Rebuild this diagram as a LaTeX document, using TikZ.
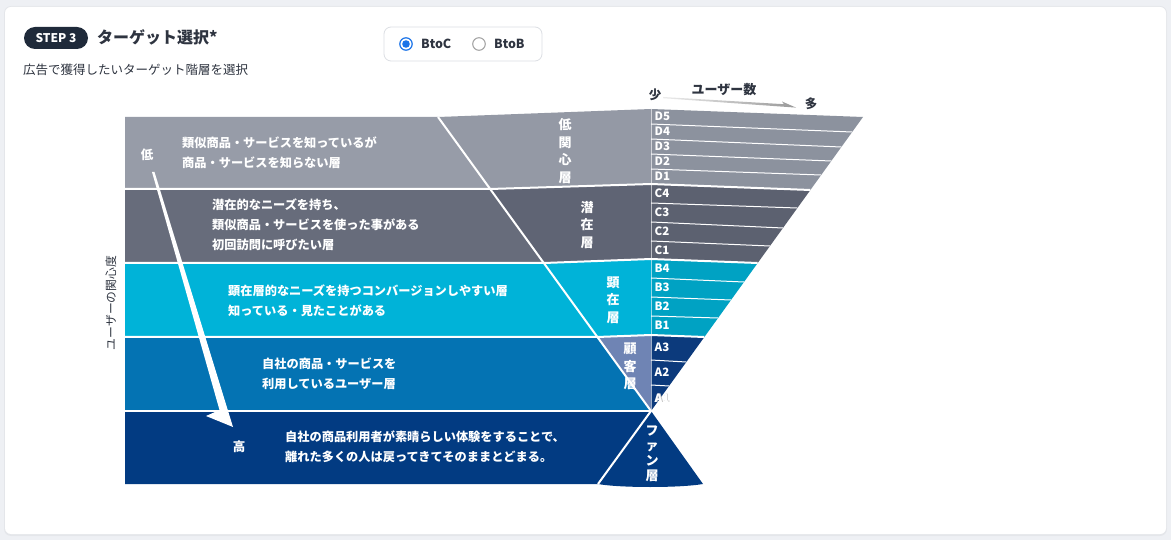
\documentclass[tikz,border=0pt]{standalone}
\usepackage{fontspec}
\setmainfont{Noto Sans CJK JP}
\definecolor{bgc}{HTML}{EEF0F4}
\definecolor{dL}{HTML}{979CA8}
\definecolor{dR}{HTML}{8C929E}
\definecolor{cL}{HTML}{676C7B}
\definecolor{cM}{HTML}{5F6474}
\definecolor{cR}{HTML}{5C6170}
\definecolor{bL}{HTML}{00B3D8}
\definecolor{bR}{HTML}{00A2C3}
\definecolor{aL}{HTML}{0473B3}
\definecolor{aM}{HTML}{6F84B4}
\definecolor{aR}{HTML}{0C3A7C}
\definecolor{fL}{HTML}{023B82}
\definecolor{ink}{HTML}{2E3440}
\definecolor{badgec}{HTML}{1F2A3A}
\definecolor{radioc}{HTML}{1A73E8}
\definecolor{boxline}{HTML}{DCDFE4}
\begin{document}
\begin{tikzpicture}[x=1pt,y=-1pt,
  bandtxt/.style={text=white,font=\bfseries\fontsize{12.2}{20}\selectfont,align=left,anchor=west,inner sep=0},
  vlab/.style={text=white,font=\bfseries\fontsize{13}{17.7}\selectfont,align=center,inner sep=0},
  rlab/.style={text=white,font=\bfseries\fontsize{11.5}{12}\selectfont,inner sep=0,anchor=west},
  sectsep/.style={white,line width=2pt,line join=round},
  rowsep/.style={white,line width=1pt},
  inktxt/.style={text=ink,inner sep=0}]
\fill[bgc] (0,0) rectangle (1171,540);
\useasboundingbox (0,0) rectangle (1171,540);
% card
\fill[black,opacity=0.04,rounded corners=7] (4,6) rectangle (1167,536);
\fill[white,rounded corners=6] (5,7) rectangle (1166,534);
% header
\node[fill=badgec,rounded corners=11,minimum width=64,minimum height=22,inner sep=0,text=white,font=\bfseries\fontsize{12}{12}\selectfont] (badge) at (56,38) {STEP 3};
\node[inktxt,anchor=west,font=\bfseries\fontsize{16}{16}\selectfont] (title) at (97,37) {ターゲット選択*};
\node[inktxt,anchor=west,font=\fontsize{12.5}{13}\selectfont] (sub) at (23,70) {広告で獲得したいターゲット階層を選択};
% radio
\node[draw=boxline,fill=white,rounded corners=7,minimum width=158,minimum height=34,inner sep=0,line width=0.8pt] (radiobox) at (463,44) {};
\draw[radioc,line width=1.2pt] (406,44) circle (6.2);
\fill[radioc] (406,44) circle (3.8);
\draw[gray!75,line width=1pt] (479,44) circle (6.3);
\node[inktxt,anchor=west,font=\bfseries\fontsize{12.5}{13}\selectfont] (btoc) at (421,44) {BtoC};
\node[inktxt,anchor=west,font=\bfseries\fontsize{12.5}{13}\selectfont] (btob) at (494,44) {BtoB};
% left bands
\fill[dL] (125,117) -- (438,117) -- (490,189) -- (125,189) -- cycle;
\fill[cL] (125,189) -- (490,189) -- (544,263) -- (125,263) -- cycle;
\fill[bL] (125,263) -- (544,263) -- (597,337) -- (125,337) -- cycle;
\fill[aL] (125,337) -- (597,337) -- (651,411) -- (125,411) -- cycle;
\fill[fL] (125,411) -- (651,411) -- (598,484) -- (125,484) -- cycle;
% middle funnel
\fill[dL!98!black] (438,117) -- (651,109) -- (651,184) -- (490,189) -- cycle;
\fill[cM] (490,189) -- (651,184) -- (651,259) -- (544,263) -- cycle;
\fill[bL] (544,263) -- (651,259) -- (651,335) -- (597,337) -- cycle;
\fill[aM] (597,337) -- (651,335) -- (651,411) -- cycle;
\fill[fL] (651,411) -- (703,484) .. controls (680,488) and (620,488) .. (598,484) -- cycle;
% right column
\fill[dR] (651,109) -- (863,117) -- (810.4,190) -- (651,184) -- cycle;
\fill[cR] (651,184) -- (810.4,190) -- (757.7,263) -- (651,259) -- cycle;
\fill[bR] (651,259) -- (757.7,263) -- (704.4,337) -- (651,335) -- cycle;
\fill[aR] (651,335) -- (704.4,337) -- (651,411) -- cycle;
\foreach \yl/\yr in {124/132,139/147,154/161,169/175,203/208,222/228,241/246,278/282,297/300,316/318,360/362,385/386}
  \draw[rowsep] (651,\yl) -- ({863-0.7211*(\yr-117)},\yr);
\draw[white,opacity=0.6,line width=0.8pt] (651,109) -- (651,411);
% section separators
\draw[sectsep] (125,189) -- (490,189) -- (651,184) -- (810.4,190);
\draw[sectsep] (125,263) -- (544,263) -- (651,259) -- (757.7,263);
\draw[sectsep] (125,337) -- (597,337) -- (651,335) -- (704.4,337);
\draw[sectsep] (125,411) -- (651,411);
\draw[sectsep] (438,117) -- (651,411) -- (598,484);
% top arrow
\shade[left color=white!85!gray,right color=gray!80] (663,97) -- (784,104.2) -- (782,101.5) -- (796,107.6) -- (663,98.2) -- cycle;
\node[inktxt,font=\bfseries\fontsize{12.5}{13}\selectfont] (few) at (655,95) {少};
\node[inktxt,font=\bfseries\fontsize{13}{13}\selectfont] (users) at (724,90) {ユーザー数};
\node[inktxt,font=\bfseries\fontsize{12.5}{13}\selectfont] (many) at (811,104) {多};
% left arrow
\fill[white] (152,172) -- (219.5,410) -- (206,416) -- (233,427) -- (154.5,172) -- cycle;
\node[inktxt,rotate=90,font=\fontsize{11.8}{12}\selectfont] (axis) at (111,303) {ユーザーの関心度};
% band texts
\node[text=white,inner sep=0,font=\bfseries\fontsize{12.5}{13}\selectfont] (low) at (147,155) {低};
\node[text=white,inner sep=0,font=\bfseries\fontsize{12.5}{13}\selectfont] (high) at (239,447) {高};
\node[bandtxt] (tD) at (182,153) {類似商品・サービスを知っているが\\商品・サービスを知らない層};
\node[bandtxt] (tC) at (212,225) {潜在的なニーズを持ち、\\類似商品・サービスを使った事がある\\初回訪問に呼びたい層};
\node[bandtxt] (tB) at (228,301) {顕在層的なニーズを持つコンバージョンしやすい層\\知っている・見たことがある};
\node[bandtxt] (tA) at (262,374) {自社の商品・サービスを\\利用しているユーザー層};
\node[bandtxt] (tF) at (285,447) {自社の商品利用者が素晴らしい体験をすることで、\\離れた多くの人は戻ってきてそのままとどまる。};
% middle labels
\node[vlab] (mD) at (565,151) {低\\関\\心\\層};
\node[vlab] (mC) at (587,225) {潜\\在\\層};
\node[vlab] (mB) at (613,300) {顕\\在\\層};
\node[vlab] (mA) at (630,366.5) {顧\\客\\層};
\node[vlab,font=\bfseries\fontsize{13}{15}\selectfont] (mF) at (652,454) {フ\\ァ\\ン\\層};
% right labels
\node[rlab,text=gray!45] (rA1s) at (655.3,398.7) {A1};
\foreach \t/\y in {D5/116.5,D4/131.5,D3/146.5,D2/161.5,D1/176.5,C4/193.5,C3/212.5,C2/231.5,C1/250,B4/268.5,B3/287.5,B2/306.5,B1/325,A3/347.5,A2/372.5,A1/398}
  \node[rlab] (r\t) at (654.5,\y) {\t};
\end{tikzpicture}
\end{document}
